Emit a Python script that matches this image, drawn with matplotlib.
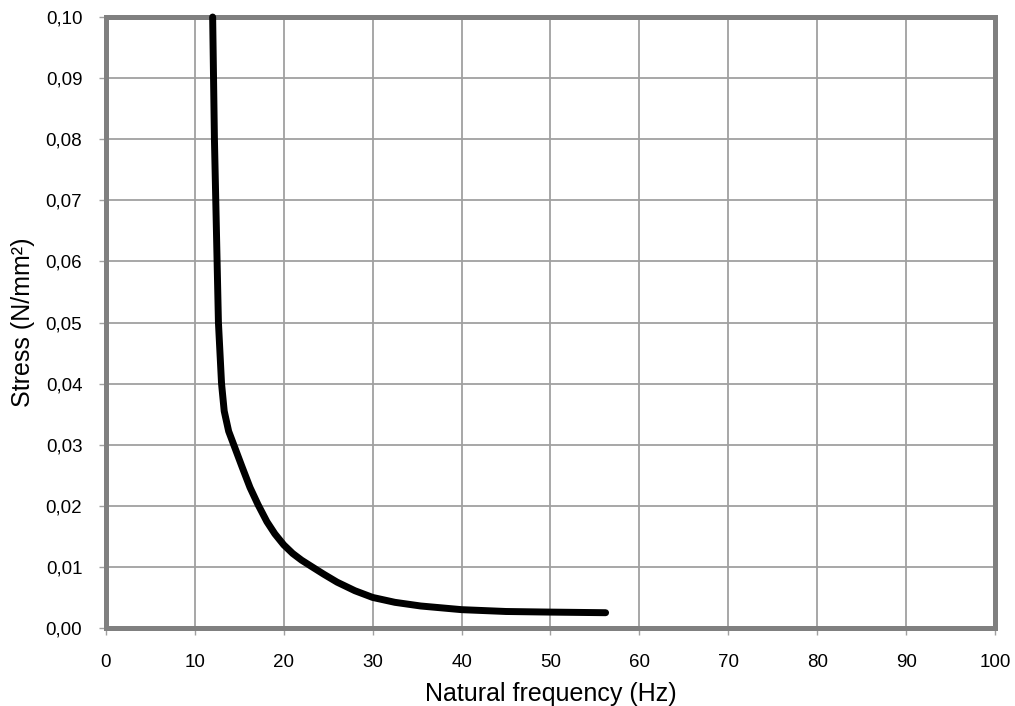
import numpy as np
import matplotlib.pyplot as plt
from matplotlib.ticker import FuncFormatter

plt.rcParams['font.family'] = ['Liberation Sans', 'DejaVu Sans']

# curve
freq = [12.0, 12.1, 12.2, 12.35, 12.5, 12.65, 13.0, 13.3, 13.8, 14.5, 15.3,
        16.2, 17.1, 18.1, 19.0, 20.0, 21.0, 22.0, 23.3, 24.5, 26.0, 28.0,
        30.0, 32.5, 35.4, 40.0, 45.0, 50.0, 56.2]
stress = [0.100, 0.090, 0.080, 0.070, 0.060, 0.050, 0.040, 0.0355, 0.0322, 0.0295, 0.0264,
          0.0230, 0.0202, 0.0174, 0.0154, 0.0136, 0.0122, 0.0111, 0.0099, 0.0088, 0.0075, 0.0061,
          0.0050, 0.0042, 0.0036, 0.0030, 0.0027, 0.0026, 0.0025]

x_ticks = np.arange(0, 101, 10)
y_ticks = np.arange(0, 0.101, 0.01)

fig = plt.figure(figsize=(10.15, 7.06), dpi=100)
ax = fig.add_axes([0.1044, 0.1105, 0.8759, 0.8654])

ax.plot(freq, stress, color='black', lw=5, solid_capstyle='round',
        solid_joinstyle='round', zorder=3, clip_on=False)

ax.set_xlim(0, 100)
ax.set_ylim(0, 0.10)
ax.set_xticks(x_ticks)
ax.set_yticks(y_ticks)
ax.yaxis.set_major_formatter(FuncFormatter(lambda v, p: f'{v:.2f}'.replace('.', ',')))
ax.grid(True, color='#a0a0a0', lw=1.3)
ax.set_axisbelow(True)

for s in ax.spines.values():
    s.set_color('#808080')
    s.set_linewidth(3.6)
ax.tick_params(colors='#a0a0a0', labelcolor='black', length=5, width=1, labelsize=13.5)
ax.tick_params(axis='x', pad=14)
ax.tick_params(axis='y', pad=12)

ax.set_xlabel('Natural frequency (Hz)', fontsize=18, labelpad=8)
ax.set_ylabel('Stress (N/mm²)', fontsize=18, labelpad=8)

fig.savefig('out.png', dpi=100)
